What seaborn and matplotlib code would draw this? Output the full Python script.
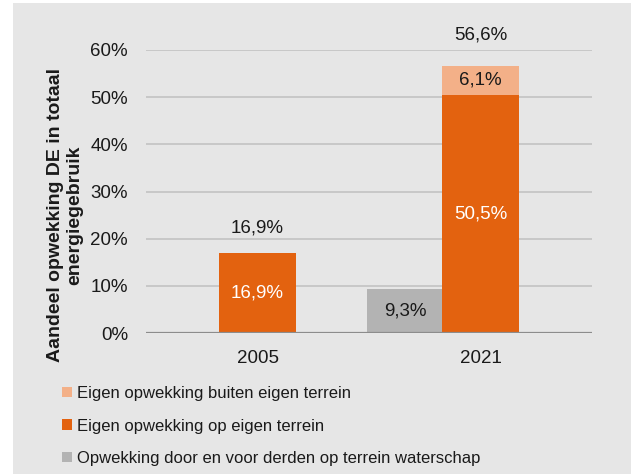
import numpy as np
import pandas as pd
import matplotlib
matplotlib.use("Agg")
import matplotlib.pyplot as plt
from matplotlib.patches import Patch, Rectangle
from matplotlib.ticker import FuncFormatter
import seaborn as sns

# ---- data ----
years = ["2005", "2021"]
eigen_op_terrein = [16.9, 50.5]        # Eigen opwekking op eigen terrein
eigen_buiten_terrein = [0.0, 6.1]      # Eigen opwekking buiten eigen terrein
derden = [0.0, 9.3]                    # Opwekking door en voor derden op terrein waterschap
totals = [16.9, 56.6]
yticks = [0, 10, 20, 30, 40, 50, 60]
legend_labels = ["Eigen opwekking buiten eigen terrein",
                 "Eigen opwekking op eigen terrein",
                 "Opwekking door en voor derden op terrein waterschap"]
ylabel = "Aandeel opwekking DE in totaal\nenergiegebruik"

# ---- style ----
sns.set_theme(style="white")
plt.rcParams["font.family"] = ["Liberation Sans", "DejaVu Sans"]

C_ORANGE = "#e3620f"
C_LIGHT = "#f3b088"
C_GRAY = "#b3b3b3"
C_BG = "#e6e6e6"
C_TXT = "#1a1a1a"

def fmt(v):
    return f"{v:.1f}".replace(".", ",") + "%"

fig = plt.figure(figsize=(6.31, 4.74), dpi=100, facecolor="white")
fig.patches.append(Rectangle((13 / 631, 0), 1, 1 - 3 / 474, transform=fig.transFigure,
                             facecolor=C_BG, edgecolor="none", zorder=-10))

ax = fig.add_axes([146 / 631, 1 - 333 / 474, 446 / 631, 283 / 474])
ax.set_facecolor("none")

df = pd.DataFrame({"jaar": years, "op": eigen_op_terrein,
                   "buiten": eigen_buiten_terrein, "derden": derden, "totaal": totals})
df["stack"] = df["op"] + df["buiten"]

W = 0.345
# stacked light orange (total) and orange on top
sns.barplot(data=df, x="jaar", y="stack", order=years, color=C_LIGHT, width=W,
            saturation=1, ax=ax, zorder=3, linewidth=0)
sns.barplot(data=df, x="jaar", y="op", order=years, color=C_ORANGE, width=W,
            saturation=1, ax=ax, zorder=4, linewidth=0)
# grey bar to the left of the stack
pos = np.arange(len(years))
ax.bar(pos - W + 0.01, df["derden"], width=W, color=C_GRAY, zorder=3, linewidth=0)

# grid
for t in yticks[1:]:
    ax.axhline(t, color="#bfbfbf", lw=1.1, zorder=1)
ax.axhline(0, color="#8c8c8c", lw=1.6, zorder=5)

ax.set_xlim(-0.5, 1.5)
ax.set_ylim(0, 60)
ax.set_yticks(yticks)
ax.yaxis.set_major_formatter(FuncFormatter(lambda v, p: f"{v:.0f}%"))
ax.tick_params(axis="y", length=0, pad=13, labelsize=13.5, labelcolor=C_TXT)
ax.tick_params(axis="x", length=0, pad=12, labelsize=13.5, labelcolor=C_TXT)
ax.set_xlabel("")
ax.set_ylabel("")
for s in ax.spines.values():
    s.set_visible(False)

# labels
fs = 13.5
offsets = [18, 22.5]
for i in range(len(years)):
    op = df["op"][i]
    bu = df["buiten"][i]
    de = df["derden"][i]
    if op > 0:
        ax.text(i, op / 2, fmt(op), ha="center", va="center", color="white", fontsize=fs, zorder=6)
    if bu > 0:
        ax.text(i, op + bu / 2, fmt(bu), ha="center", va="center", color=C_TXT, fontsize=fs, zorder=6)
    if de > 0:
        ax.text(i - W + 0.01, de / 2, fmt(de), ha="center", va="center", color=C_TXT, fontsize=fs, zorder=6)
    ax.annotate(fmt(df["totaal"][i]), (i, df["stack"][i]), xytext=(0, offsets[i]),
                textcoords="offset points", ha="center", va="center", color=C_TXT,
                fontsize=fs, annotation_clip=False)

fig.text(65 / 631, 1 - 215 / 474, ylabel, rotation=90, ha="center", va="center",
         multialignment="center", fontsize=14, fontweight="bold", color=C_TXT)

handles = [Patch(facecolor=C_LIGHT, edgecolor="none"),
           Patch(facecolor=C_ORANGE, edgecolor="none"),
           Patch(facecolor=C_GRAY, edgecolor="none")]
fig.legend(handles, legend_labels, loc="upper left", bbox_to_anchor=(62 / 631, 1 - 386 / 474),
           frameon=False, fontsize=12, handlelength=0.6, handleheight=0.6,
           handletextpad=0.3, labelspacing=1.05, borderpad=0, borderaxespad=0,
           labelcolor=C_TXT)

fig.savefig("out.png", dpi=100, facecolor="white")
